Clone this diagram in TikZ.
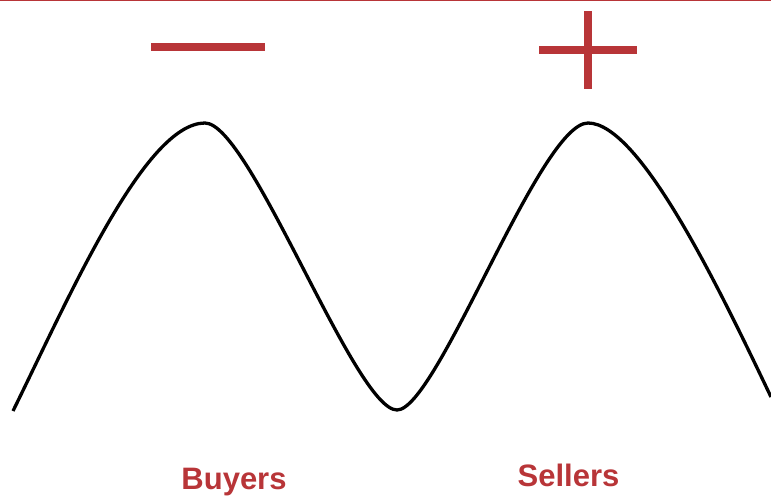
\documentclass[tikz,border=0pt]{standalone}
\usepackage{fontspec}
\setmainfont{Liberation Sans}
\definecolor{accent}{HTML}{B83538}
\begin{document}
\begin{tikzpicture}[x=1pt,y=-1pt,
  label/.style={font=\bfseries\fontsize{31}{31}\selectfont, text=accent, inner sep=0, anchor=base},
  sign/.style={fill=accent, draw=none}]
\useasboundingbox (0,0) rectangle (771,497);
\fill[accent] (0,0) rectangle (771,1.3);
% minus
\fill[sign] (151,43) rectangle (265,51);
% plus
\fill[sign] (539,46) rectangle (637,54);
\fill[sign] (584,11) rectangle (592,89);
% curve
\coordinate (s) at (13,411);
\coordinate (p1) at (205,123);
\coordinate (t) at (397,410);
\coordinate (p2) at (588,123);
\coordinate (e) at (771,397);
\draw[line width=3.3pt, line cap=butt]
  (s) .. controls (70,295) and (145,123) .. (p1)
      .. controls (250,123) and (355,410) .. (t)
      .. controls (437,410) and (540,123) .. (p2)
      .. controls (640,123) and (720,290) .. (e);
\node[label] (buyers) at (234,489) {Buyers};
\node[label] (sellers) at (568.5,486) {Sellers};
\end{tikzpicture}
\end{document}
